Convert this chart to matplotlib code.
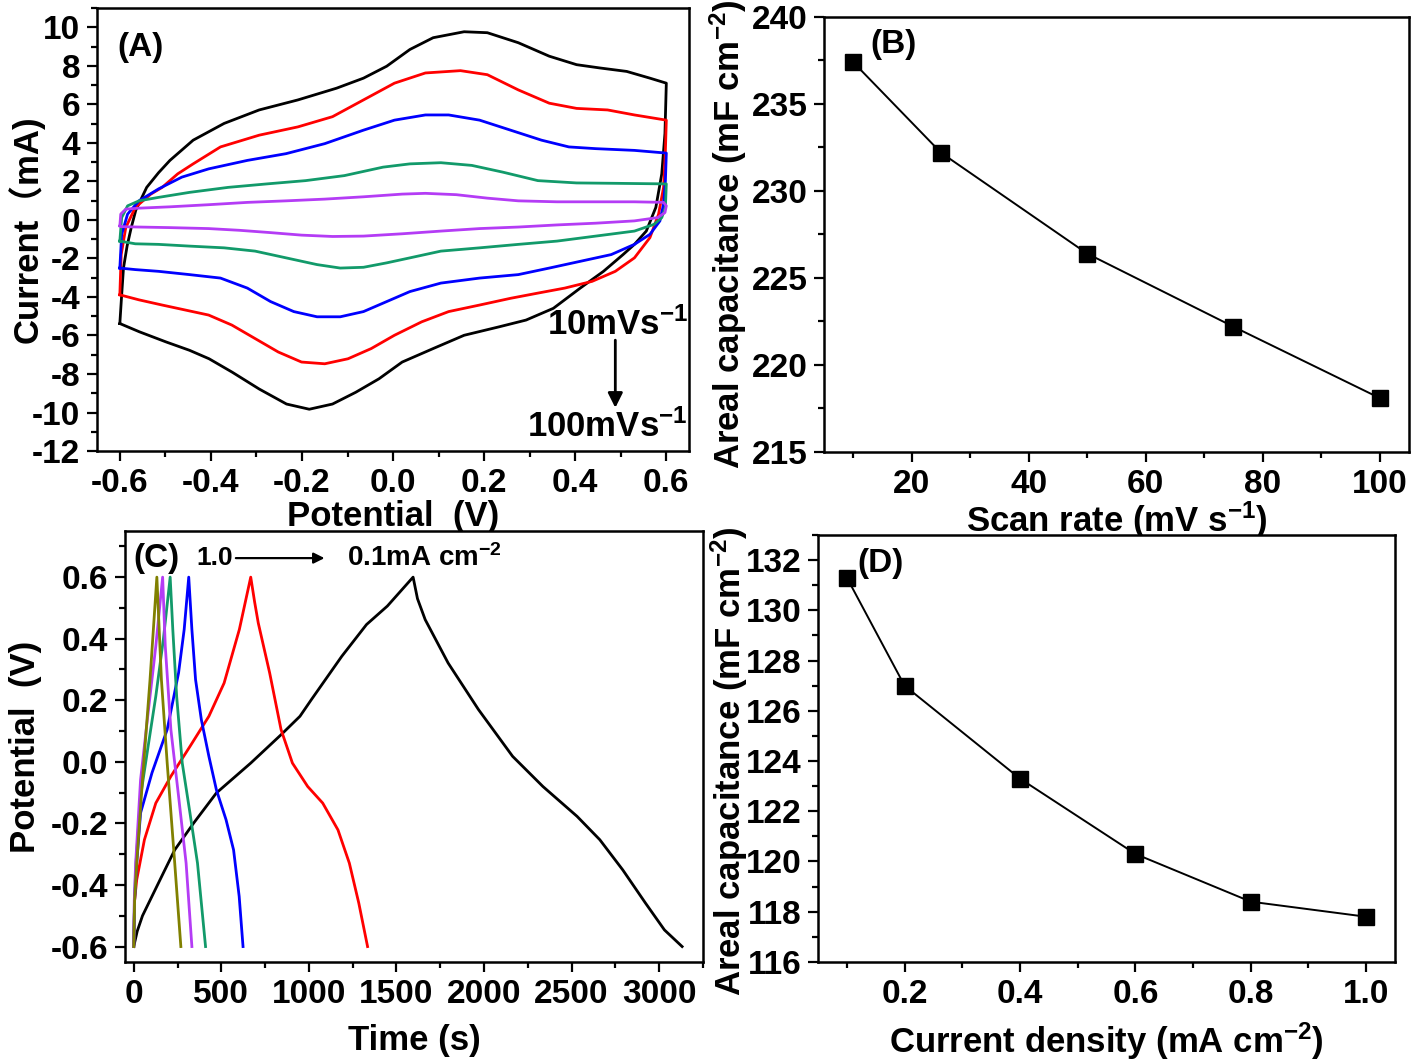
import numpy as np
import matplotlib
matplotlib.use('Agg')
import matplotlib.pyplot as plt
from matplotlib.ticker import MultipleLocator

plt.rcParams['font.family'] = ['Liberation Sans', 'DejaVu Sans']
plt.rcParams['font.weight'] = 'bold'
plt.rcParams['axes.unicode_minus'] = False
plt.rcParams['mathtext.fontset'] = 'custom'
plt.rcParams['mathtext.rm'] = 'Liberation Sans:bold'
plt.rcParams['mathtext.bf'] = 'Liberation Sans:bold'
plt.rcParams['mathtext.default'] = 'rm'

# ---- (A) CV curves, forward (-0.6 -> 0.6) and reverse sweep ----
cv100_fwd_v = [-0.6, -0.596, -0.592, -0.584, -0.575, -0.565, -0.541, -0.515, -0.490, -0.439, -0.371, -0.294,
               -0.209, -0.124, -0.065, -0.014, 0.037, 0.088, 0.156, 0.207, 0.275, 0.343, 0.403, 0.454,
               0.513, 0.564, 0.6]
cv100_fwd_i = [-5.38, -3.9, -2.50, -1.35, -0.40, 0.50, 1.69, 2.45, 3.09, 4.14, 5.01, 5.71,
               6.23, 6.84, 7.36, 7.98, 8.85, 9.46, 9.77, 9.72, 9.20, 8.50, 8.06, 7.89,
               7.71, 7.36, 7.10]
cv100_rev_v = [0.6, 0.597, 0.590, 0.577, 0.556, 0.530, 0.505, 0.462, 0.411, 0.352, 0.292, 0.233, 0.156, 0.088,
               0.020, -0.031, -0.082, -0.133, -0.184, -0.234, -0.294, -0.353, -0.404, -0.447, -0.498, -0.557, -0.6]
cv100_rev_i = [7.10, 4.49, 2.39, 0.65, -0.58, -1.27, -1.80, -2.67, -3.54, -4.59, -5.20, -5.55, -5.99, -6.68,
               -7.38, -8.25, -8.95, -9.56, -9.83, -9.56, -8.78, -7.91, -7.21, -6.77, -6.34, -5.81, -5.38]

cv75_fwd_v = [-0.6, -0.597, -0.587, -0.566, -0.532, -0.507, -0.473, -0.439, -0.379, -0.294, -0.209, -0.133,
              -0.065, 0.003, 0.071, 0.148, 0.207, 0.275, 0.343, 0.403, 0.471, 0.530, 0.6]
cv75_fwd_i = [-3.89, -1.80, -0.40, 0.65, 1.34, 1.69, 2.39, 2.91, 3.79, 4.40, 4.83, 5.36,
              6.23, 7.10, 7.63, 7.75, 7.54, 6.75, 6.06, 5.79, 5.71, 5.45, 5.18]
cv75_rev_v = [0.6, 0.598, 0.594, 0.583, 0.564, 0.530, 0.488, 0.437, 0.377, 0.318, 0.258, 0.190, 0.122, 0.063,
              0.003, -0.048, -0.099, -0.150, -0.201, -0.252, -0.303, -0.354, -0.405, -0.456, -0.507, -0.558, -0.6]
cv75_rev_i = [5.18, 3.61, 1.69, 0.30, -0.92, -1.97, -2.67, -3.19, -3.54, -3.80, -4.07, -4.42, -4.76, -5.29,
              -5.99, -6.68, -7.21, -7.47, -7.38, -6.86, -6.16, -5.46, -4.94, -4.68, -4.42, -4.15, -3.89]

cv50_fwd_v = [-0.6, -0.596, -0.583, -0.558, -0.515, -0.464, -0.405, -0.320, -0.235, -0.150, -0.065,
              0.003, 0.071, 0.122, 0.190, 0.258, 0.326, 0.386, 0.445, 0.530, 0.6]
cv50_fwd_i = [-2.50, -0.75, 0.30, 0.99, 1.61, 2.22, 2.65, 3.09, 3.44, 3.96, 4.66,
              5.18, 5.45, 5.45, 5.18, 4.66, 4.14, 3.79, 3.70, 3.61, 3.47]
cv50_rev_v = [0.6, 0.598, 0.594, 0.586, 0.564, 0.530, 0.479, 0.411, 0.343, 0.275, 0.190, 0.105, 0.037,
              -0.014, -0.065, -0.116, -0.167, -0.218, -0.269, -0.320, -0.379, -0.447, -0.515, -0.566, -0.6]
cv50_rev_i = [3.47, 2.04, 0.82, -0.05, -0.75, -1.27, -1.80, -2.15, -2.50, -2.84, -3.02, -3.28, -3.72,
              -4.24, -4.76, -5.03, -5.03, -4.76, -4.24, -3.54, -3.02, -2.84, -2.67, -2.58, -2.50]

cv25_fwd_v = [-0.6, -0.596, -0.583, -0.558, -0.515, -0.447, -0.362, -0.277, -0.192, -0.107, -0.022,
              0.037, 0.105, 0.173, 0.241, 0.318, 0.403, 0.488, 0.6]
cv25_fwd_i = [-1.10, 0.12, 0.73, 0.99, 1.17, 1.43, 1.69, 1.87, 2.04, 2.30, 2.74,
              2.91, 2.97, 2.83, 2.48, 2.04, 1.92, 1.90, 1.87]
cv25_rev_v = [0.6, 0.598, 0.590, 0.573, 0.530, 0.445, 0.360, 0.275, 0.190, 0.105, 0.037, -0.014,
              -0.065, -0.116, -0.167, -0.235, -0.303, -0.371, -0.447, -0.515, -0.566, -0.6]
cv25_rev_i = [1.87, 0.65, 0.12, -0.23, -0.58, -0.84, -1.10, -1.27, -1.45, -1.62, -1.97, -2.23,
              -2.46, -2.50, -2.32, -1.97, -1.62, -1.45, -1.36, -1.27, -1.24, -1.10]

cv10_fwd_v = [-0.6, -0.598, -0.587, -0.558, -0.490, -0.405, -0.320, -0.235, -0.150, -0.065,
              0.020, 0.071, 0.139, 0.207, 0.275, 0.360, 0.445, 0.530, 0.594, 0.6]
cv10_fwd_i = [-0.31, 0.30, 0.56, 0.61, 0.68, 0.79, 0.91, 0.99, 1.08, 1.20,
              1.34, 1.38, 1.31, 1.13, 0.99, 0.94, 0.94, 0.94, 0.91, 0.73]
cv10_rev_v = [0.6, 0.597, 0.581, 0.530, 0.445, 0.360, 0.275, 0.190, 0.105, 0.020, -0.065,
              -0.133, -0.201, -0.269, -0.337, -0.405, -0.490, -0.558, -0.596, -0.6]
cv10_rev_i = [0.73, 0.38, 0.12, -0.05, -0.17, -0.26, -0.37, -0.45, -0.58, -0.72, -0.84,
              -0.86, -0.79, -0.66, -0.54, -0.45, -0.40, -0.37, -0.35, -0.31]

# ---- (B) areal capacitance vs scan rate ----
scan_rate = [10, 25, 50, 75, 100]
cap_scan = [237.4, 232.2, 226.4, 222.2, 218.1]

# ---- (C) GCD curves ----
gcd01_t = [0, 20, 50, 104, 170, 234, 342, 472, 668, 841, 949, 1014, 1188, 1329, 1448, 1595,
           1620, 1664, 1795, 1968, 2163, 2336, 2531, 2661, 2792, 2922, 3030, 3131]
gcd01_v = [-0.6, -0.55, -0.5, -0.437, -0.36, -0.286, -0.199, -0.101, -0.004, 0.088, 0.148, 0.202, 0.343, 0.446,
           0.506, 0.6, 0.53, 0.462, 0.321, 0.170, 0.018, -0.080, -0.177, -0.253, -0.351, -0.459, -0.546, -0.6]
gcd02_t = [0, 5, 17, 61, 126, 212, 321, 429, 516, 603, 668,
           690, 711, 776, 841, 906, 993, 1079, 1166, 1231, 1285, 1335]
gcd02_v = [-0.6, -0.45, -0.383, -0.253, -0.134, -0.047, 0.050, 0.148, 0.256, 0.430, 0.6,
           0.52, 0.451, 0.289, 0.105, -0.004, -0.080, -0.134, -0.221, -0.329, -0.459, -0.6]
gcd04_t = [0, 5, 17, 39, 104, 191, 256, 288, 314, 332, 353, 386, 429, 472, 527, 570, 602, 624]
gcd04_v = [-0.6, -0.45, -0.329, -0.166, -0.036, 0.105, 0.289, 0.430, 0.6,
           0.430, 0.267, 0.137, 0.018, -0.091, -0.188, -0.286, -0.437, -0.6]
gcd06_t = [0, 4, 13, 39, 82, 126, 169, 208, 223, 245, 277, 321, 364, 410]
gcd06_v = [-0.6, -0.45, -0.329, -0.112, 0.050, 0.213, 0.397, 0.6, 0.430, 0.213, -0.004, -0.166, -0.329, -0.6]
gcd08_t = [0, 3, 11, 39, 82, 126, 165, 180, 212, 256, 299, 332]
gcd08_v = [-0.6, -0.45, -0.329, -0.058, 0.159, 0.376, 0.6, 0.376, 0.105, -0.112, -0.329, -0.6]
gcd10_t = [0, 5, 17, 50, 93, 132, 158, 191, 234, 269]
gcd10_v = [-0.6, -0.45, -0.329, -0.058, 0.267, 0.6, 0.267, -0.004, -0.329, -0.6]

# ---- (D) areal capacitance vs current density ----
cur_density = [0.1, 0.2, 0.4, 0.6, 0.8, 1.0]
cap_cur = [131.3, 127.0, 123.3, 120.3, 118.4, 117.8]

c_black, c_red, c_blue = 'black', '#FF0000', '#0000FF'
c_green, c_violet, c_olive = '#129A6A', '#B43CF5', '#808000'

fig = plt.figure(figsize=(14.17, 10.6), dpi=100)
axA = fig.add_axes([0.0685, 0.5745, 0.4178, 0.4179])
axB = fig.add_axes([0.5815, 0.5736, 0.4128, 0.4104])
axC = fig.add_axes([0.0882, 0.0925, 0.4079, 0.4066])
axD = fig.add_axes([0.5773, 0.0925, 0.4072, 0.4028])

FS = 24


def style(ax):
    for s in ax.spines.values():
        s.set_linewidth(1.8)
    ax.tick_params(which='both', direction='out', top=False, right=False, width=1.6,
                   labelsize=FS, pad=5)
    ax.tick_params(which='major', length=7)
    ax.tick_params(which='minor', length=4.5)
    for lab in ax.get_xticklabels() + ax.get_yticklabels():
        lab.set_fontweight('bold')


# (A)
lw = 2.0
for fv, fi, rv, ri, col in [(cv100_fwd_v, cv100_fwd_i, cv100_rev_v, cv100_rev_i, c_black),
                            (cv75_fwd_v, cv75_fwd_i, cv75_rev_v, cv75_rev_i, c_red),
                            (cv50_fwd_v, cv50_fwd_i, cv50_rev_v, cv50_rev_i, c_blue),
                            (cv25_fwd_v, cv25_fwd_i, cv25_rev_v, cv25_rev_i, c_green),
                            (cv10_fwd_v, cv10_fwd_i, cv10_rev_v, cv10_rev_i, c_violet)]:
    axA.plot(fv + rv[1:], fi + ri[1:], color=col, lw=lw)
axA.set_xlim(-0.65, 0.65)
axA.set_ylim(-12, 11)
axA.xaxis.set_minor_locator(MultipleLocator(0.1))
axA.yaxis.set_major_locator(MultipleLocator(2))
axA.yaxis.set_minor_locator(MultipleLocator(1))
axA.set_xticks(np.arange(-0.6, 0.61, 0.2))
axA.set_xticklabels(['-0.6', '-0.4', '-0.2', '0.0', '0.2', '0.4', '0.6'])
style(axA)
axA.set_xlabel('Potential  (V)', fontsize=25, fontweight='bold', labelpad=1)
axA.set_ylabel('Current（mA)', fontsize=25, fontweight='bold',
               family=['Liberation Sans', 'Noto Sans CJK SC'])
axA.yaxis.set_label_coords(-0.088, 0.5)
axA.text(0.035, 0.912, '(A)', transform=axA.transAxes, fontsize=FS, fontweight='bold', va='center')
axA.text(0.998, 0.285, r'10mVs$^{-1}$', transform=axA.transAxes, fontsize=25, fontweight='bold',
         ha='right', va='center')
axA.text(0.998, 0.055, r'100mVs$^{-1}$', transform=axA.transAxes, fontsize=25, fontweight='bold',
         ha='right', va='center')
axA.annotate('', xy=(0.488, -9.9), xytext=(0.488, -6.1),
             arrowprops=dict(arrowstyle='-|>', color='black', lw=2, mutation_scale=22))

# (B)
axB.plot(scan_rate, cap_scan, color='black', lw=1.4, marker='s', markersize=11)
axB.set_xlim(5, 105)
axB.set_ylim(215, 240)
axB.xaxis.set_major_locator(MultipleLocator(20))
axB.xaxis.set_minor_locator(MultipleLocator(10))
axB.yaxis.set_major_locator(MultipleLocator(5))
axB.yaxis.set_minor_locator(MultipleLocator(2.5))
style(axB)
axB.set_xlabel(r'Scan rate (mV s$^{-1}$)', fontsize=25, fontweight='bold', labelpad=0)
axB.set_ylabel(r'Areal capacitance (mF cm$^{-2}$)', fontsize=25, fontweight='bold', labelpad=2)
axB.text(0.079, 0.936, '(B)', transform=axB.transAxes, fontsize=FS, fontweight='bold', va='center')

# (C)
for t, v, col in [(gcd01_t, gcd01_v, c_black), (gcd02_t, gcd02_v, c_red), (gcd04_t, gcd04_v, c_blue),
                  (gcd06_t, gcd06_v, c_green), (gcd08_t, gcd08_v, c_violet), (gcd10_t, gcd10_v, c_olive)]:
    axC.plot(t, v, color=col, lw=lw)
axC.set_xlim(-50, 3250)
axC.set_ylim(-0.65, 0.75)
axC.xaxis.set_major_locator(MultipleLocator(500))
axC.xaxis.set_minor_locator(MultipleLocator(250))
axC.yaxis.set_minor_locator(MultipleLocator(0.1))
axC.set_yticks(np.arange(-0.6, 0.61, 0.2))
axC.set_yticklabels(['-0.6', '-0.4', '-0.2', '0.0', '0.2', '0.4', '0.6'])
style(axC)
axC.set_xlabel('Time (s)', fontsize=25, fontweight='bold', labelpad=10)
axC.set_ylabel('Potential  (V)', fontsize=25, fontweight='bold', labelpad=6)
axC.text(0.014, 0.937, '(C)', transform=axC.transAxes, fontsize=FS, fontweight='bold', va='center')
axC.text(0.123, 0.937, '1.0', transform=axC.transAxes, fontsize=19, fontweight='bold', va='center')
axC.annotate('', xy=(0.35, 0.937), xytext=(0.187, 0.937), xycoords='axes fraction',
             arrowprops=dict(arrowstyle='-|>', color='black', lw=1.6, mutation_scale=16))
axC.text(0.384, 0.937, r'0.1mA cm$^{-2}$', transform=axC.transAxes, fontsize=20, fontweight='bold',
         va='center')

# (D)
axD.plot(cur_density, cap_cur, color='black', lw=1.4, marker='s', markersize=11)
axD.set_xlim(0.05, 1.05)
axD.set_ylim(116, 133)
axD.xaxis.set_minor_locator(MultipleLocator(0.1))
axD.yaxis.set_major_locator(MultipleLocator(2))
axD.yaxis.set_minor_locator(MultipleLocator(1))
axD.set_xticks([0.2, 0.4, 0.6, 0.8, 1.0])
style(axD)
axD.set_xlabel(r'Current density (mA cm$^{-2}$)', fontsize=25, fontweight='bold', labelpad=8)
axD.set_ylabel(r'Areal capacitance (mF cm$^{-2}$)', fontsize=25, fontweight='bold')
axD.yaxis.set_label_coords(-0.118, 0.47)
axD.text(0.069, 0.934, '(D)', transform=axD.transAxes, fontsize=FS, fontweight='bold', va='center')

fig.savefig('out.png', dpi=100)
